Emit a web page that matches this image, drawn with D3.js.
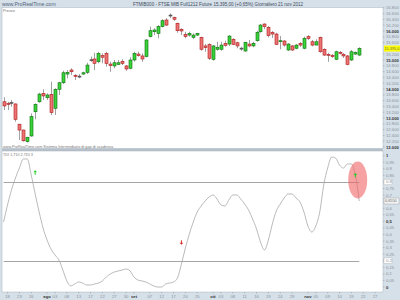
<!DOCTYPE html>
<html lang="it">
<head>
<meta charset="UTF-8">
<title>FTSE MIB Future - giornaliero</title>
<script src="https://d3js.org/d3.v7.min.js"></script>
<style>
  body { margin: 0; background: #d6e0e9; }
  svg { display: block; font-family: "Liberation Sans", Arial, sans-serif; }
</style>
</head>
<body>
<svg id="chart" width="400" height="300"></svg>
<script>
// daily bars, 17 lug 2012 -> 21 nov 2012 (index 0..90)
const open  = [13560,13505,13540,13485,12785,12585,12185,12380,13215,13560,
               13850,13700,13815,13335,13990,14215,14515,14655,14470,14445,
               14515,14575,15000,15035,14940,15150,15230,14860,14795,14850,
               14955,14795,14715,15000,15205,15140,15115,15805,15975,15920,
               16150,16380,16550,16460,16265,16060,15885,15860,15780,15860,
               15780,15485,15540,15025,15370,15370,15575,15550,15715,15595,
               15410,15310,15550,15485,15665,15975,16240,16125,15950,15895,
               15630,15655,15345,15485,15405,15575,15405,15805,15630,15515,
               15780,15370,15195,15160,15025,15265,15195,15140,15000,15205,15170];
const high  = [13715,13560,13620,13500,12800,12600,12355,13160,13505,13870,
               13990,13850,14250,14025,14250,14630,14655,14715,14515,14515,
               14595,14905,15115,15250,15285,15230,15285,14940,15000,15000,
               15025,14825,15095,15285,15285,15230,15715,16150,16095,16205,
               16405,16440,16610,16495,16290,16095,15975,15975,15920,15940,
               15805,15550,15575,15515,15630,15630,15665,15860,15750,15630,
               15460,15630,15690,15630,16010,16240,16265,16170,16000,15940,
               15825,15690,15585,15515,15550,15620,15805,15860,15690,15715,
               15805,15405,15250,15205,15320,15310,15240,15170,15345,15300,15440];
const low   = [13275,13275,13390,12870,12240,12185,12150,12355,12955,13525,
               13620,13620,13105,13105,13795,14170,14370,14485,14310,14370,
               14485,14515,14940,14655,14885,14885,14770,14595,14715,14825,
               14825,14630,14680,14940,15115,14940,15095,15780,15860,15750,
               16125,16170,16440,16355,15940,15860,15750,15805,15715,15825,
               15320,15285,15000,14975,15320,15320,15460,15485,15515,15405,
               15320,15285,15440,15440,15630,15940,16060,15780,15760,15515,
               15370,15460,15310,15310,15370,15450,15370,15690,15470,15515,
               15250,15140,14940,15070,15000,15195,15070,14815,14965,15170,15140];
const close = [13415,13470,13530,12955,12585,12215,12335,13045,13470,13825,
               13760,13795,13185,13990,14215,14560,14575,14595,14440,14430,
               14560,14825,15010,14885,15230,15095,14885,14805,14905,14905,
               14885,14690,15000,15230,15150,15035,15690,16010,16035,16150,
               16355,16205,16540,16405,16010,16000,15805,15920,15860,15920,
               15370,15425,15060,15485,15440,15515,15505,15825,15540,15485,
               15400,15610,15485,15575,15955,16205,16150,15840,15895,15540,
               15665,15515,15550,15345,15515,15515,15750,15735,15515,15630,
               15285,15170,15160,15115,15285,15230,15140,14850,15285,15265,15395];

// oscillator (0..1)
const osc = [0.495,0.625,0.739,0.830,0.906,0.975,0.975,0.853,0.708,0.571,
             0.449,0.358,0.289,0.244,0.206,0.129,0.046,0.008,0.023,0.038,
             0.030,0.015,0.015,0.023,0.030,0.046,0.076,0.099,0.114,0.122,
             0.129,0.137,0.122,0.076,0.053,0.046,0.038,0.023,0.008,0.000,
             0.000,0.023,0.030,0.038,0.069,0.175,0.297,0.404,0.495,0.571,
             0.617,0.655,0.685,0.701,0.670,0.625,0.617,0.663,0.701,0.701,
             0.670,0.632,0.586,0.518,0.442,0.343,0.282,0.358,0.480,0.579,
             0.632,0.678,0.708,0.708,0.678,0.647,0.571,0.465,0.419,0.465,
             0.571,0.777,0.906,0.990,0.982,0.929,0.906,0.937,0.937,0.853,0.655];
const oscLevels = [0.8, 0.2];

// signals on the oscillator
const sigIdx = [8, 45, 89];
const sigVal = [0.87, 0.34, 0.85];
const sigDir = ["up", "down", "up"];

// x axis labels (trading day index)
const dateIdx = [1,4,7,11,13,16,19,22,25,28,31,33,37,40,43,46,49,
                 53,55,58,61,64,67,70,73,77,79,82,85,88,91,94];
const dateLbl = ["18","23","26","ago","03","08","13","17","22","27","30","set","07","12","17","20","25",
                 "ott","03","08","11","16","19","24","29","nov","05","09","14","19","22","27"];
const monthLbl = ["ago","set","ott","nov"];

const priceTicks = d3.range(12000, 16801, 200);
const oscTicks = d3.range(0, 21).map(d => d * 0.05);
const lastPrice = 15395;

const svg = d3.select("#chart");
const L = 2, R = 383;

const x = d3.scaleLinear().domain([-0.5, 96]).range([1.6, 383]);
const y = d3.scaleLinear().domain([12000, 16800]).range([147, 7.8]);
const yo = d3.scaleLinear().domain([0, 1]).range([287, 155.7]);

const itFmt = d3.formatLocale({decimal: ",", thousands: ".", grouping: [3], currency: ["€", ""]});
const pFmt = itFmt.format(",.0f");
const oFmt = v => itFmt.format(".2~f")(v);

// frame
svg.append("rect").attr("width", 400).attr("height", 300).attr("fill", "#d6e0e9");
svg.append("rect").attr("x", L).attr("y", 7.5).attr("width", R - L).attr("height", 141)
  .attr("fill", "#fff").attr("stroke", "#a8b4c0").attr("stroke-width", 0.5);
svg.append("rect").attr("x", L).attr("y", 148.5).attr("width", R - L).attr("height", 2.5).attr("fill", "#b8c1ca");
svg.append("rect").attr("x", L).attr("y", 151).attr("width", R - L).attr("height", 141)
  .attr("fill", "#fff").attr("stroke", "#a8b4c0").attr("stroke-width", 0.5);

// header
svg.append("text").attr("x", 2).attr("y", 5.5).attr("font-size", 5.2).attr("fill", "#50627a")
  .text("www.ProRealTime.com");
svg.append("text").attr("x", 133).attr("y", 5.5).attr("font-size", 4.8).attr("fill", "#3d4a5c")
  .attr("textLength", 170).attr("lengthAdjust", "spacingAndGlyphs")
  .text("FTMIB000 - FTSE MIB Full1212 Future   15.395,00 (+0,65%)   Giornaliero  21 nov 2012");
svg.append("text").attr("x", 3).attr("y", 11.5).attr("font-size", 3.8).attr("fill", "#777").text("Prezzo");
svg.append("text").attr("x", 3).attr("y", 147.5).attr("font-size", 3.8).attr("fill", "#777")
  .text("www.ProRealTime.com  Sistema Intermediario di gap di scadenza");
svg.append("text").attr("x", 3).attr("y", 155.5).attr("font-size", 3.8).attr("fill", "#777")
  .text("TDI 1,TDI 2,TDI 3");

// price axis
const pa = svg.append("g");
priceTicks.forEach(v => {
  const yy = y(v);
  if (Math.abs(yy - y(lastPrice)) < 4) return;
  const major = v % 1000 === 0;
  pa.append("line").attr("x1", R).attr("x2", R + 1.5).attr("y1", yy).attr("y2", yy).attr("stroke", "#8a96a2").attr("stroke-width", 0.5);
  pa.append("text").attr("x", 386).attr("y", yy + 1.5).attr("font-size", 4.2)
    .attr("font-weight", major ? "bold" : "normal")
    .attr("fill", major ? "#333" : "#8a929a").text(pFmt(v));
});
pa.append("rect").attr("x", 384).attr("y", y(lastPrice) - 3).attr("width", 16).attr("height", 6).attr("fill", "#ffff00");
pa.append("text").attr("x", 384.5).attr("y", y(lastPrice) + 1.4).attr("font-size", 3.8).attr("fill", "#666")
  .text(itFmt.format(",.1f")(lastPrice));

// candles
const idx = d3.range(close.length);
const cg = svg.append("g");
cg.selectAll("line.wick").data(idx).enter().append("line")
  .attr("x1", i => Math.round(x(i)) + 0.5).attr("x2", i => Math.round(x(i)) + 0.5)
  .attr("y1", i => y(high[i])).attr("y2", i => y(low[i]))
  .attr("stroke", "#a0a0a0").attr("stroke-width", 1);
cg.selectAll("rect.body").data(idx).enter().append("rect")
  .attr("x", i => Math.round(x(i)) - 1)
  .attr("y", i => y(Math.max(open[i], close[i])))
  .attr("width", 3)
  .attr("height", i => Math.max(1, Math.abs(y(open[i]) - y(close[i]))))
  .attr("fill", i => Math.abs(close[i] - open[i]) < 20 ? "#555" : close[i] > open[i] ? "#3ad23a" : "#ec7474")
  .attr("stroke", i => Math.abs(close[i] - open[i]) < 20 ? "#555" : close[i] > open[i] ? "#0b6e0b" : "#b01818")
  .attr("stroke-width", 0.6);

// oscillator axis
const oa = svg.append("g");
oscTicks.forEach(v => {
  const yy = yo(v);
  if (Math.abs(yy - yo(osc[osc.length - 1])) < 4) return;
  const boxed = oscLevels.some(l => Math.abs(l - v) < 1e-6);
  const major = Math.abs(v - 0.5) < 1e-6 || v < 1e-6 || v > 0.999;
  oa.append("line").attr("x1", R).attr("x2", R + 1.5).attr("y1", yy).attr("y2", yy).attr("stroke", "#8a96a2").attr("stroke-width", 0.5);
  if (boxed) oa.append("rect").attr("x", 384).attr("y", yy - 2.8).attr("width", 8).attr("height", 5.6)
    .attr("fill", "#fff").attr("stroke", "#aaa").attr("stroke-width", 0.4);
  oa.append("text").attr("x", 386).attr("y", yy + 1.5).attr("font-size", 4.2)
    .attr("font-weight", major ? "bold" : "normal")
    .attr("fill", major ? "#333" : "#8a929a").text(oFmt(v));
});
const lastOsc = osc[osc.length - 1];
oa.append("rect").attr("x", 384).attr("y", yo(lastOsc) - 3).attr("width", 15).attr("height", 6)
  .attr("fill", "#f4f4f4").attr("stroke", "#999").attr("stroke-width", 0.4);
oa.append("text").attr("x", 385).attr("y", yo(lastOsc) + 1.4).attr("font-size", 3.8).attr("fill", "#666")
  .text(itFmt.format(".4f")(lastOsc));

// oscillator levels and line
const og = svg.append("g");
oscLevels.forEach(l => {
  og.append("line").attr("x1", x(0)).attr("x2", x(osc.length - 1))
    .attr("y1", Math.round(yo(l)) + 0.5).attr("y2", Math.round(yo(l)) + 0.5)
    .attr("stroke", "#a6a6a6").attr("stroke-width", 1);
});
og.append("path").datum(osc)
  .attr("d", d3.line().x((d, i) => x(i)).y(d => yo(d)).curve(d3.curveMonotoneX))
  .attr("fill", "none").attr("stroke", "#a8a8a8").attr("stroke-width", 0.8);

// highlight ellipse
og.append("ellipse").attr("cx", x(89.6)).attr("cy", yo(0.815)).attr("rx", 9.5).attr("ry", 18.5)
  .attr("fill", "#f06464").attr("fill-opacity", 0.6);

// signals
sigIdx.forEach((i, k) => {
  const cx = x(i), cy = yo(sigVal[k]);
  const up = sigDir[k] === "up";
  const col = up ? "#22cc22" : "#dd2222";
  const d = up
    ? `M${cx},${cy - 2.5} L${cx + 1.8},${cy - 0.5} L${cx - 1.8},${cy - 0.5} Z`
    : `M${cx},${cy + 2.5} L${cx + 1.8},${cy + 0.5} L${cx - 1.8},${cy + 0.5} Z`;
  og.append("path").attr("d", d).attr("fill", col);
  og.append("line").attr("x1", cx).attr("x2", cx)
    .attr("y1", up ? cy - 0.5 : cy - 2).attr("y2", up ? cy + 2 : cy + 0.5)
    .attr("stroke", col).attr("stroke-width", 1);
});

// date axis
const da = svg.append("g");
dateIdx.forEach((i, k) => {
  const xx = x(i);
  const m = monthLbl.includes(dateLbl[k]);
  da.append("line").attr("x1", xx).attr("x2", xx).attr("y1", 292).attr("y2", 293.5).attr("stroke", "#8a96a2").attr("stroke-width", 0.5);
  da.append("text").attr("x", xx).attr("y", 298).attr("text-anchor", "middle").attr("font-size", 4.2)
    .attr("font-weight", m ? "bold" : "normal").attr("fill", m ? "#333" : "#8a929a").text(dateLbl[k]);
});
</script>
</body>
</html>
